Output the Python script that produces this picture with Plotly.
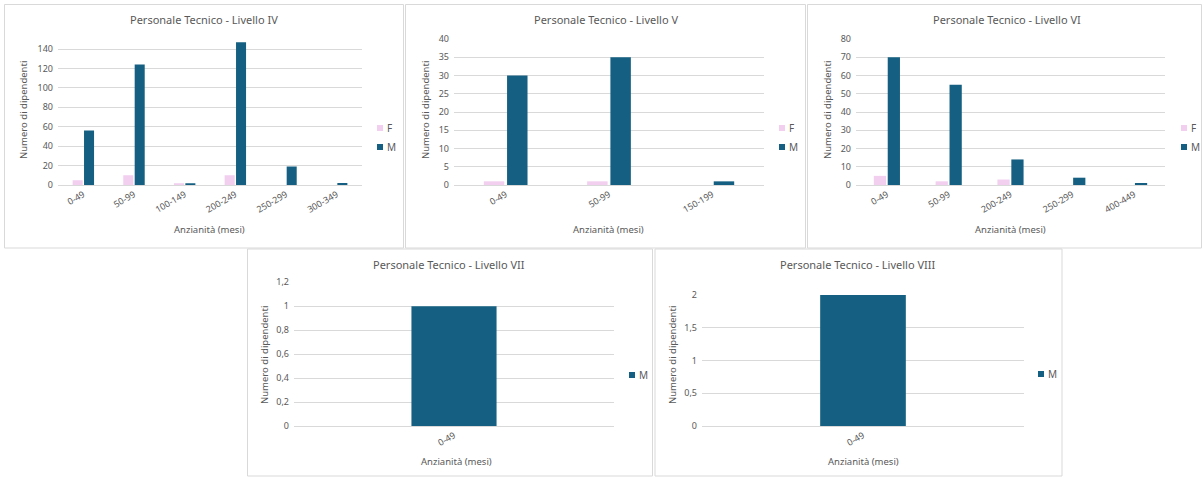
import plotly.graph_objects as go

W, H = 1203, 477

# ---------------- data ----------------
titles = ["Personale Tecnico - Livello IV", "Personale Tecnico - Livello V",
          "Personale Tecnico - Livello VI", "Personale Tecnico - Livello VII",
          "Personale Tecnico - Livello VIII"]

cat_iv = ["0-49", "50-99", "100-149", "200-249", "250-299", "300-349"]
f_iv = [5, 10, 1, 10, 0, 0]
m_iv = [56, 124, 1, 147, 19, 2]

cat_v = ["0-49", "50-99", "150-199"]
f_v = [1, 1, 0]
m_v = [30, 35, 1]

cat_vi = ["0-49", "50-99", "200-249", "250-299", "400-449"]
f_vi = [5, 2, 3, 0, 0]
m_vi = [70, 55, 14, 4, 1]

cat_vii = ["0-49"]
m_vii = [1]

cat_viii = ["0-49"]
m_viii = [2]

series_names = ["F", "M"]
x_title = "Anzianità (mesi)"
y_title = "Numero di dipendenti"

# ---------------- style ----------------
F_COLOR = "#F2CEEF"
M_COLOR = "#156082"
GRID = "#D9D9D9"
TXT = "#595959"
FONT = "Noto Sans"


def px(x):
    return x / W


def py(y):
    return 1 - y / H


# panel layout (pixels): border box, plot area, ranges, label positions
panels = [
    dict(cats=cat_iv, f=f_iv, m=m_iv, box=(4.5, 4.5, 403.5, 248), plot=(58, 362, 39.3, 185),
         yrange=[0, 150], dtick=20, title=(204, 20), ytitle=(23, 110), xtitle=(209, 230),
         legend=(380, 128)),
    dict(cats=cat_v, f=f_v, m=m_v, box=(405.5, 4.5, 805.5, 248), plot=(454, 764, 39, 185),
         yrange=[0, 40], dtick=5, title=(606, 20), ytitle=(425, 110), xtitle=(608, 230),
         legend=(782, 128)),
    dict(cats=cat_vi, f=f_vi, m=m_vi, box=(807.5, 4.5, 1201.5, 248), plot=(856, 1165, 39, 185),
         yrange=[0, 80], dtick=10, title=(1007, 20), ytitle=(827, 110), xtitle=(1010, 230),
         legend=(1184, 128)),
    dict(cats=cat_vii, f=None, m=m_vii, box=(247.5, 249, 652.5, 476), plot=(294, 614, 282.3, 426),
         yrange=[0, 1.2], dtick=0.2, title=(449, 264), ytitle=(264, 355), xtitle=(456, 461),
         legend=(632, 375)),
    dict(cats=cat_viii, f=None, m=m_viii, box=(655, 249, 1062, 476), plot=(702, 1024, 295, 426),
         yrange=[0, 2], dtick=0.5, title=(858, 264), ytitle=(672, 355), xtitle=(863, 461),
         legend=(1041, 374)),
]

fig = go.Figure()
annotations = []
shapes = []
layout_extra = {}

for i, p in enumerate(panels, start=1):
    sfx = "" if i == 1 else str(i)
    xa, ya = "x" + sfx, "y" + sfx
    entries = []
    if p["f"] is not None:
        fig.add_trace(go.Bar(x=p["cats"], y=p["f"], name=series_names[0], marker_color=F_COLOR,
                             marker_line_width=0, xaxis=xa, yaxis=ya, showlegend=False))
        entries.append((series_names[0], F_COLOR))
        fig.add_trace(go.Bar(x=p["cats"], y=p["m"], name=series_names[1], marker_color=M_COLOR,
                             marker_line_width=0, xaxis=xa, yaxis=ya, showlegend=False))
    else:
        fig.add_trace(go.Bar(x=p["cats"], y=p["m"], name=series_names[1], marker_color=M_COLOR,
                             marker_line_width=0, xaxis=xa, yaxis=ya, showlegend=False,
                             width=0.266))
    entries.append((series_names[1], M_COLOR))

    x0, x1, ytop, ybot = p["plot"]
    layout_extra["xaxis" + sfx] = dict(
        domain=[px(x0), px(x1)], anchor=ya, type="category", automargin=False,
        showgrid=False, zeroline=False, showline=True, linecolor=GRID, linewidth=1,
        ticks="", tickangle=-30, tickfont=dict(family=FONT, size=9, color=TXT),
        fixedrange=True)
    layout_extra["yaxis" + sfx] = dict(
        domain=[py(ybot), py(ytop)], anchor=xa, range=p["yrange"], dtick=p["dtick"],
        tick0=0, automargin=False, showgrid=True, gridcolor=GRID, gridwidth=1, zeroline=False,
        showline=False, ticks="", tickfont=dict(family=FONT, size=9, color=TXT),
        ticklabelstandoff=4, fixedrange=True)

    # legend (symbol squares + labels)
    lx, ly = p["legend"]
    for k, (name, col) in enumerate(entries):
        yy = ly + 19 * k
        shapes.append(dict(type="rect", xref="paper", yref="paper",
                           x0=px(lx - 3), x1=px(lx + 3), y0=py(yy + 3), y1=py(yy - 3),
                           line=dict(width=0), fillcolor=col))
        annotations.append(dict(text=name, x=px(lx + 5), y=py(yy), xref="paper", yref="paper",
                                showarrow=False, xanchor="left", yanchor="middle",
                                font=dict(family=FONT, size=10, color=TXT)))

    bx0, by0, bx1, by1 = p["box"]
    shapes.append(dict(type="rect", xref="paper", yref="paper",
                       x0=px(bx0), x1=px(bx1), y0=py(by1), y1=py(by0),
                       line=dict(color=GRID, width=1), fillcolor="rgba(0,0,0,0)", layer="below"))

    tx, ty = p["title"]
    annotations.append(dict(text=titles[i - 1], x=px(tx), y=py(ty), xref="paper", yref="paper",
                            showarrow=False, xanchor="center", yanchor="middle",
                            font=dict(family=FONT, size=11, color=TXT)))
    yx, yy = p["ytitle"]
    annotations.append(dict(text=y_title, x=px(yx), y=py(yy), xref="paper", yref="paper",
                            showarrow=False, xanchor="center", yanchor="middle", textangle=-90,
                            font=dict(family=FONT, size=9.5, color=TXT)))
    xx, xy = p["xtitle"]
    annotations.append(dict(text=x_title, x=px(xx), y=py(xy), xref="paper", yref="paper",
                            showarrow=False, xanchor="center", yanchor="middle",
                            font=dict(family=FONT, size=9.5, color=TXT)))

fig.update_layout(
    template="none",
    width=W, height=H, margin=dict(l=0, r=0, t=0, b=0, pad=0, autoexpand=False),
    paper_bgcolor="white", plot_bgcolor="white",
    barmode="group", bargap=0.55, bargroupgap=0.12,
    separators=",.",
    showlegend=False,
    font=dict(family=FONT, color=TXT),
    annotations=annotations, shapes=shapes,
    **layout_extra,
)

fig.write_html(
    "out.html",
    config={"displayModeBar": False},
    post_script="document.body.style.margin='0';document.body.style.overflow='hidden';"
                "document.documentElement.style.overflow='hidden';",
)
